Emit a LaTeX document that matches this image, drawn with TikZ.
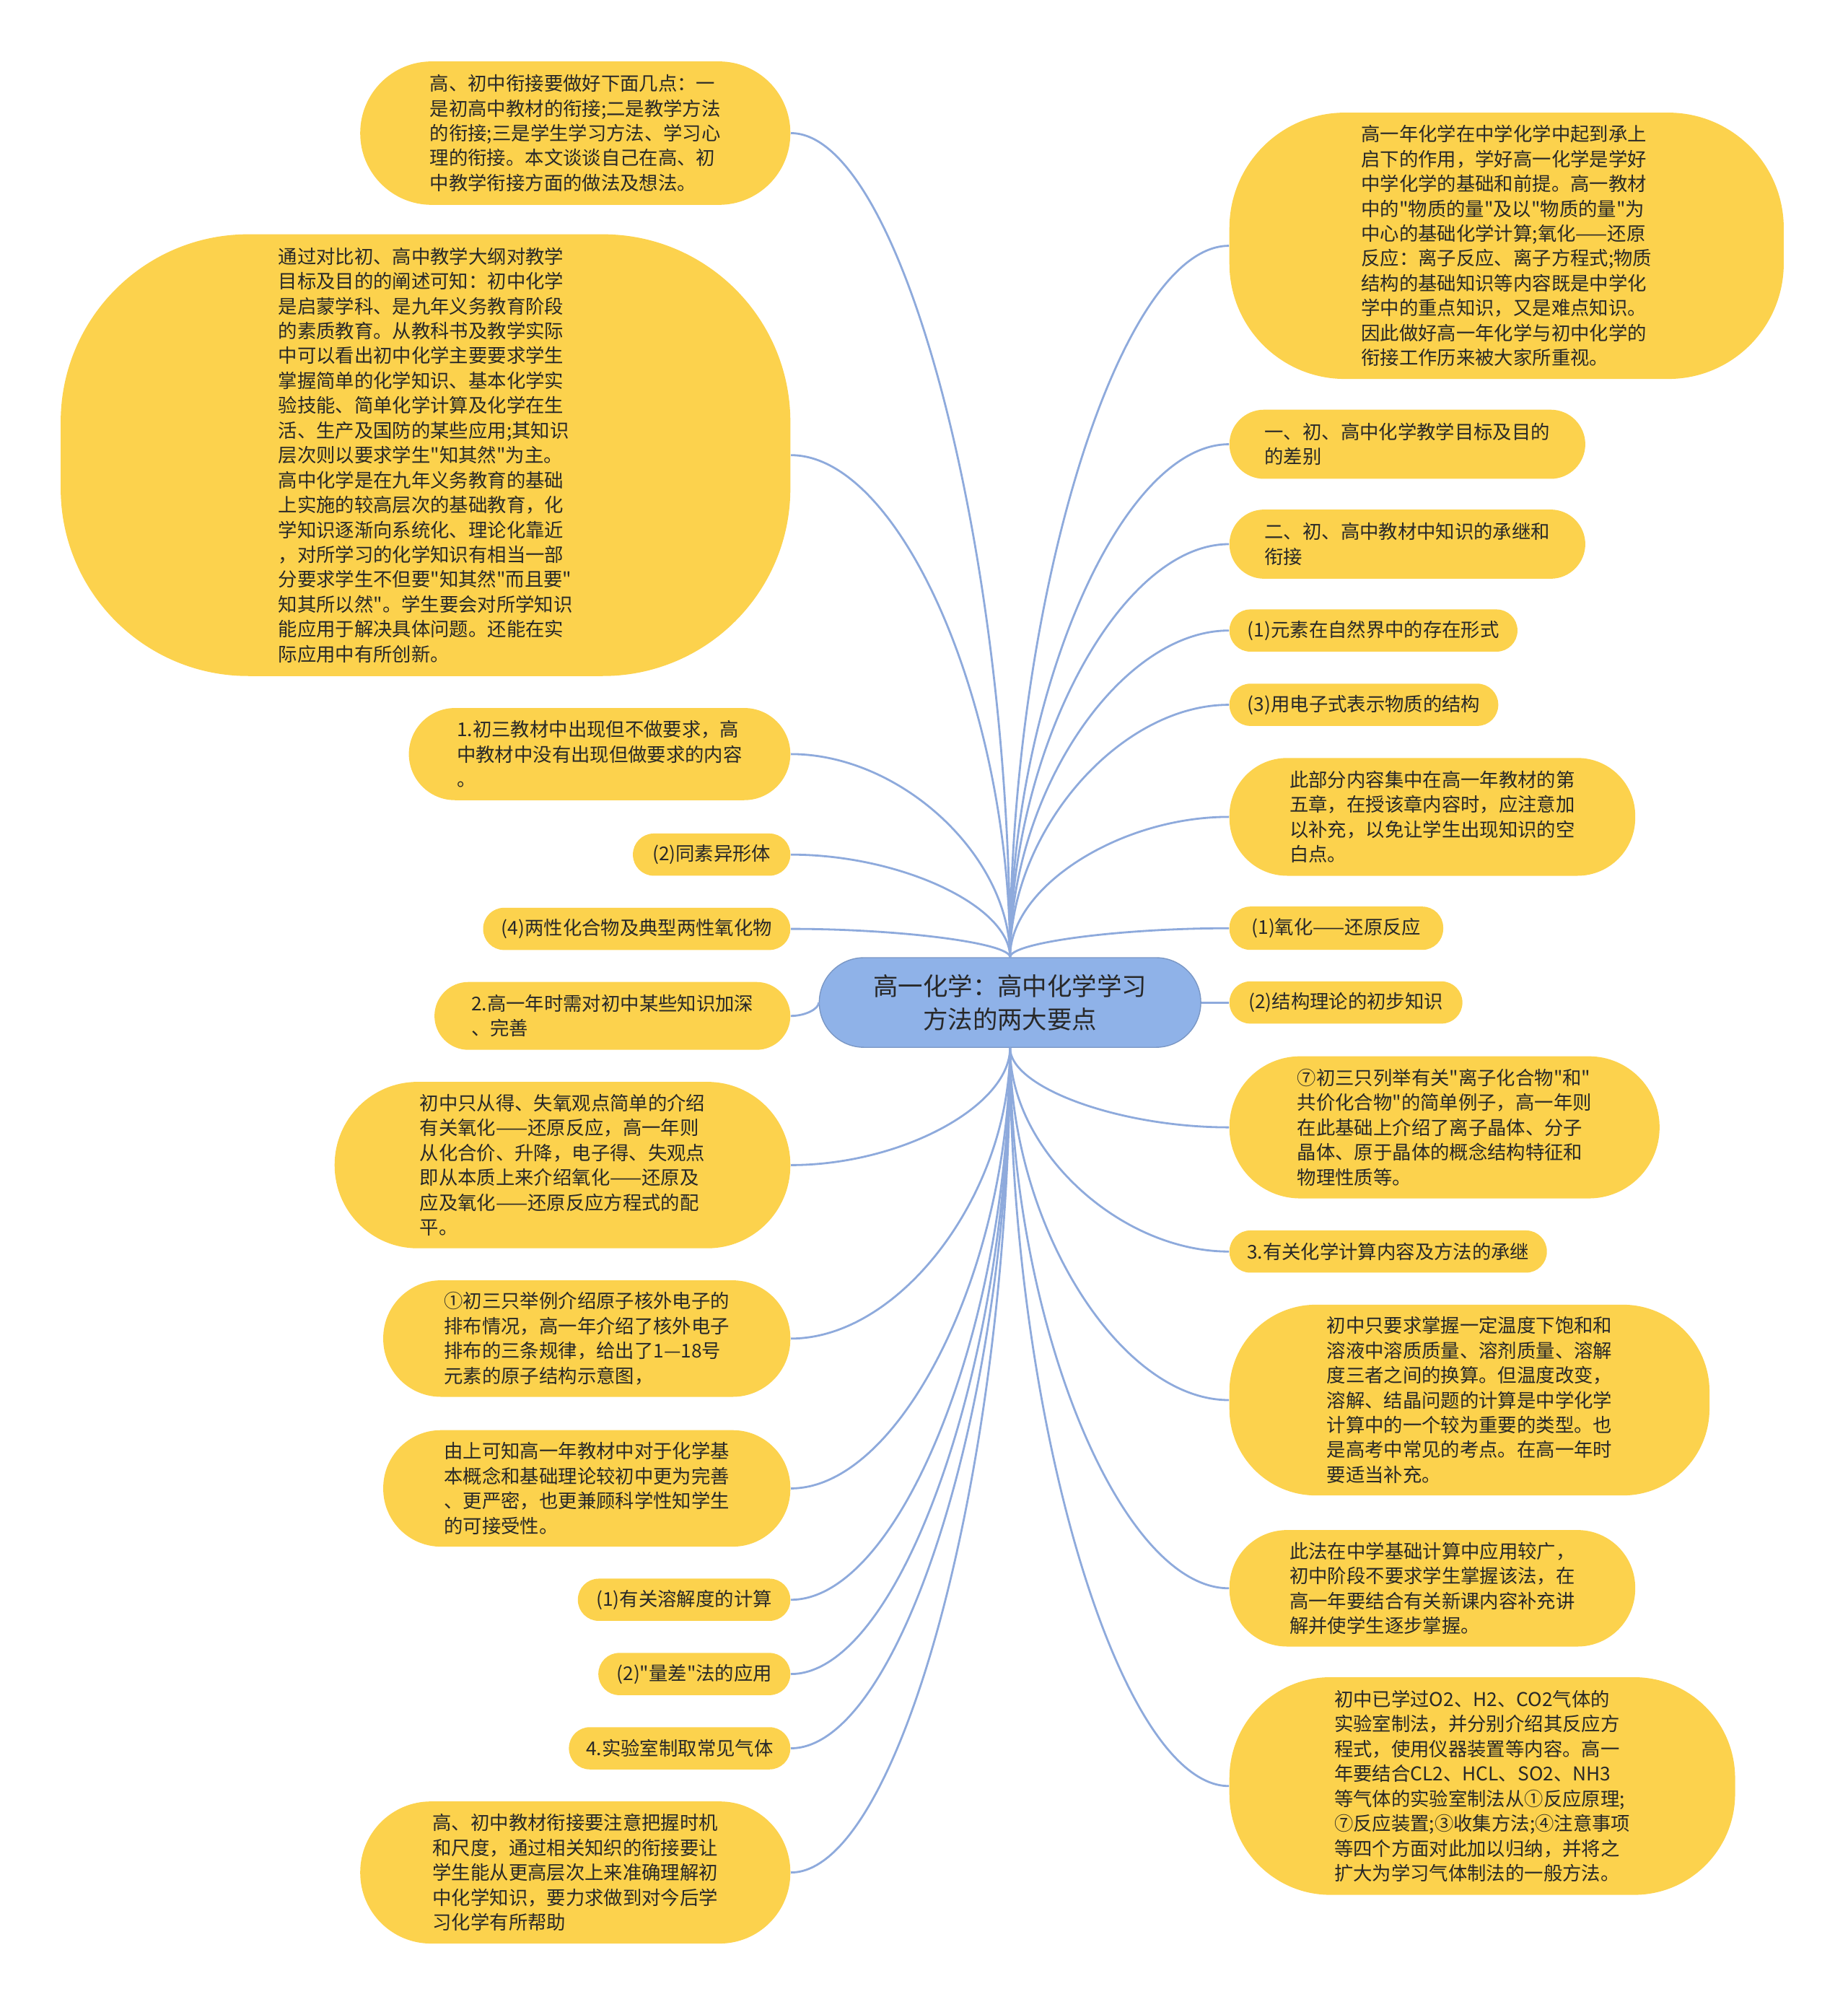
\documentclass[tikz,border=0pt]{standalone}
\usepackage{fontspec}
\setmainfont{Noto Sans CJK SC}[Ligatures=TeXOff]
\usetikzlibrary{calc}
\definecolor{leafyellow}{RGB}{252,210,77}
\definecolor{rootblue}{RGB}{143,178,232}
\definecolor{linkblue}{RGB}{142,170,220}
\definecolor{textdark}{RGB}{40,40,40}
\begin{document}
\begin{tikzpicture}[
	leaf/.style={shape=rectangle, fill=leafyellow, text=textdark, rounded corners=#1, align=left, inner sep=0pt, font=\fontsize{7.5pt}{9.8pt}\selectfont},
	leaf/.default=0.29cm,
	rootbox/.style={shape=rectangle, fill=rootblue, draw=rootblue!85!black, line width=0.4pt, text=textdark, rounded corners=0.62cm, align=center, inner sep=0pt, font=\fontsize{9.8pt}{13pt}\selectfont},
	link/.style={draw=linkblue, line width=0.8pt},
	branch/.style={to path={.. controls ($(\tikztostart)!0.5!(\tikztostart|-\tikztotarget)$) and ($(\tikztotarget)!0.5!(\tikztotarget-|\tikztostart)$) .. (\tikztotarget)}}]
	\useasboundingbox (0,0) rectangle (25.6,-27.81);
	% Root and left branches:
	\node[rootbox, minimum width=5.287cm, minimum height=1.242cm] (root) at (13.997,-13.891) {高一化学：高中化学学习\\方法的两大要点};
	\node[leaf=0.99cm, minimum width=5.961cm, minimum height=1.987cm, anchor=east] (L1) at (10.96,-1.845) {高、初中衔接要做好下面几点：一\\是初高中教材的衔接;二是教学方法\\的衔接;三是学生学习方法、学习心\\理的衔接。本文谈谈自己在高、初\\中教学衔接方面的做法及想法。};
	\node[leaf=2.6cm, minimum width=10.112cm, minimum height=6.121cm, anchor=east] (L2) at (10.96,-6.307) {通过对比初、高中教学大纲对教学\\目标及目的的阐述可知：初中化学\\是启蒙学科、是九年义务教育阶段\\的素质教育。从教科书及教学实际\\中可以看出初中化学主要要求学生\\掌握简单的化学知识、基本化学实\\验技能、简单化学计算及化学在生\\活、生产及国防的某些应用;其知识\\层次则以要求学生"知其然"为主。\\高中化学是在九年义务教育的基础\\上实施的较高层次的基础教育，化\\学知识逐渐向系统化、理论化靠近\\，对所学习的化学知识有相当一部\\分要求学生不但要"知其然"而且要"\\知其所以然"。学生要会对所学知识\\能应用于解决具体问题。还能在实\\际应用中有所创新。};
	\node[leaf=0.64cm, minimum width=5.287cm, minimum height=1.277cm, anchor=east] (L3) at (10.96,-10.449) {1.初三教材中出现但不做要求，高\\中教材中没有出现但做要求的内容\\。};
	\node[leaf, minimum width=2.182cm, minimum height=0.585cm, anchor=east] (L4) at (10.96,-11.842) {(2)同素异形体};
	\node[leaf, minimum width=4.258cm, minimum height=0.585cm, anchor=east] (L5) at (10.96,-12.871) {(4)两性化合物及典型两性氧化物};
	\node[leaf=0.47cm, minimum width=4.932cm, minimum height=0.94cm, anchor=east] (L6) at (10.96,-14.077) {2.高一年时需对初中某些知识加深\\、完善};
	\node[leaf=1.15cm, minimum width=6.316cm, minimum height=2.306cm, anchor=east] (L7) at (10.96,-16.144) {初中只从得、失氧观点简单的介绍\\有关氧化——还原反应，高一年则\\从化合价、升降，电子得、失观点\\即从本质上来介绍氧化——还原及\\应及氧化——还原反应方程式的配\\平。};
	\node[leaf=0.8cm, minimum width=5.642cm, minimum height=1.614cm, anchor=east] (L8) at (10.96,-18.548) {①初三只举例介绍原子核外电子的\\排布情况，高一年介绍了核外电子\\排布的三条规律，给出了1—18号\\元素的原子结构示意图，};
	\node[leaf=0.8cm, minimum width=5.642cm, minimum height=1.614cm, anchor=east] (L9) at (10.96,-20.624) {由上可知高一年教材中对于化学基\\本概念和基础理论较初中更为完善\\、更严密，也更兼顾科学性知学生\\的可接受性。};
	\node[leaf, minimum width=2.945cm, minimum height=0.585cm, anchor=east] (L10) at (10.96,-22.167) {(1)有关溶解度的计算};
	\node[leaf, minimum width=2.661cm, minimum height=0.585cm, anchor=east] (L11) at (10.96,-23.196) {(2)"量差"法的应用};
	\node[leaf, minimum width=3.069cm, minimum height=0.585cm, anchor=east] (L12) at (10.96,-24.225) {4.实验室制取常见气体};
	\node[leaf=0.98cm, minimum width=5.961cm, minimum height=1.969cm, anchor=east] (L13) at (10.96,-25.946) {高、初中教材衔接要注意把握时机\\和尺度，通过相关知织的衔接要让\\学生能从更高层次上来准确理解初\\中化学知识，要力求做到对今后学\\习化学有所帮助};
	% Right branches:
	\node[leaf=1.6cm, minimum width=7.682cm, minimum height=3.69cm, anchor=west] (R1) at (17.03,-3.406) {高一年化学在中学化学中起到承上\\启下的作用，学好高一化学是学好\\中学化学的基础和前提。高一教材\\中的"物质的量"及以"物质的量"为\\中心的基础化学计算;氧化——还原\\反应：离子反应、离子方程式;物质\\结构的基础知识等内容既是中学化\\学中的重点知识，又是难点知识。\\因此做好高一年化学与初中化学的\\衔接工作历来被大家所重视。};
	\node[leaf=0.48cm, minimum width=4.932cm, minimum height=0.958cm, anchor=west] (R2) at (17.03,-6.156) {一、初、高中化学教学目标及目的\\的差别};
	\node[leaf=0.48cm, minimum width=4.932cm, minimum height=0.958cm, anchor=west] (R3) at (17.03,-7.540) {二、初、高中教材中知识的承继和\\衔接};
	\node[leaf, minimum width=3.992cm, minimum height=0.585cm, anchor=west] (R4) at (17.03,-8.737) {(1)元素在自然界中的存在形式};
	\node[leaf, minimum width=3.726cm, minimum height=0.585cm, anchor=west] (R5) at (17.03,-9.766) {(3)用电子式表示物质的结构};
	\node[leaf=0.8cm, minimum width=5.624cm, minimum height=1.632cm, anchor=west] (R6) at (17.03,-11.319) {此部分内容集中在高一年教材的第\\五章，在授该章内容时，应注意加\\以补充，以免让学生出现知识的空\\白点。};
	\node[leaf, minimum width=2.963cm, minimum height=0.6cm, anchor=west] (R7) at (17.03,-12.862) {(1)氧化——还原反应};
	\node[leaf, minimum width=3.229cm, minimum height=0.585cm, anchor=west] (R8) at (17.03,-13.891) {(2)结构理论的初步知识};
	\node[leaf=0.98cm, minimum width=5.961cm, minimum height=1.969cm, anchor=west] (R9) at (17.03,-15.621) {⑦初三只列举有关"离子化合物"和"\\共价化合物"的简单例子，高一年则\\在此基础上介绍了离子晶体、分子\\晶体、原于晶体的概念结构特征和\\物理性质等。};
	\node[leaf, minimum width=4.4cm, minimum height=0.585cm, anchor=west] (R10) at (17.03,-17.342) {3.有关化学计算内容及方法的承继};
	\node[leaf=1.2cm, minimum width=6.653cm, minimum height=2.643cm, anchor=west] (R11) at (17.03,-19.400) {初中只要求掌握一定温度下饱和和\\溶液中溶质质量、溶剂质量、溶解\\度三者之间的换算。但温度改变，\\溶解、结晶问题的计算是中学化学\\计算中的一个较为重要的类型。也\\是高考中常见的考点。在高一年时\\要适当补充。};
	\node[leaf=0.8cm, minimum width=5.624cm, minimum height=1.614cm, anchor=west] (R12) at (17.03,-22.008) {此法在中学基础计算中应用较广，\\初中阶段不要求学生掌握该法，在\\高一年要结合有关新课内容补充讲\\解并使学生逐步掌握。};
	\node[leaf=1.4cm, minimum width=7.008cm, minimum height=3.016cm, anchor=west] (R13) at (17.03,-24.748) {初中已学过O2、H2、CO2气体的\\实验室制法，并分别介绍其反应方\\程式，使用仪器装置等内容。高一\\年要结合CL2、HCL、SO2、NH3\\等气体的实验室制法从①反应原理;\\⑦反应装置;③收集方法;④注意事项\\等四个方面对此加以归纳，并将之\\扩大为学习气体制法的一般方法。};
	% Connectors:
	\draw[link] (root.north) to[branch] (L1.east);
	\draw[link] (root.north) to[branch] (L2.east);
	\draw[link] (root.north) to[branch] (L3.east);
	\draw[link] (root.north) to[branch] (L4.east);
	\draw[link] (root.north) to[branch] (L5.east);
	\draw[link] (root.west) to[branch] (L6.east);
	\draw[link] (root.south) to[branch] (L7.east);
	\draw[link] (root.south) to[branch] (L8.east);
	\draw[link] (root.south) to[branch] (L9.east);
	\draw[link] (root.south) to[branch] (L10.east);
	\draw[link] (root.south) to[branch] (L11.east);
	\draw[link] (root.south) to[branch] (L12.east);
	\draw[link] (root.south) to[branch] (L13.east);
	\draw[link] (root.north) to[branch] (R1.west);
	\draw[link] (root.north) to[branch] (R2.west);
	\draw[link] (root.north) to[branch] (R3.west);
	\draw[link] (root.north) to[branch] (R4.west);
	\draw[link] (root.north) to[branch] (R5.west);
	\draw[link] (root.north) to[branch] (R6.west);
	\draw[link] (root.north) to[branch] (R7.west);
	\draw[link] (root.east) -- (R8.west);
	\draw[link] (root.south) to[branch] (R9.west);
	\draw[link] (root.south) to[branch] (R10.west);
	\draw[link] (root.south) to[branch] (R11.west);
	\draw[link] (root.south) to[branch] (R12.west);
	\draw[link] (root.south) to[branch] (R13.west);
\end{tikzpicture}
\end{document}
